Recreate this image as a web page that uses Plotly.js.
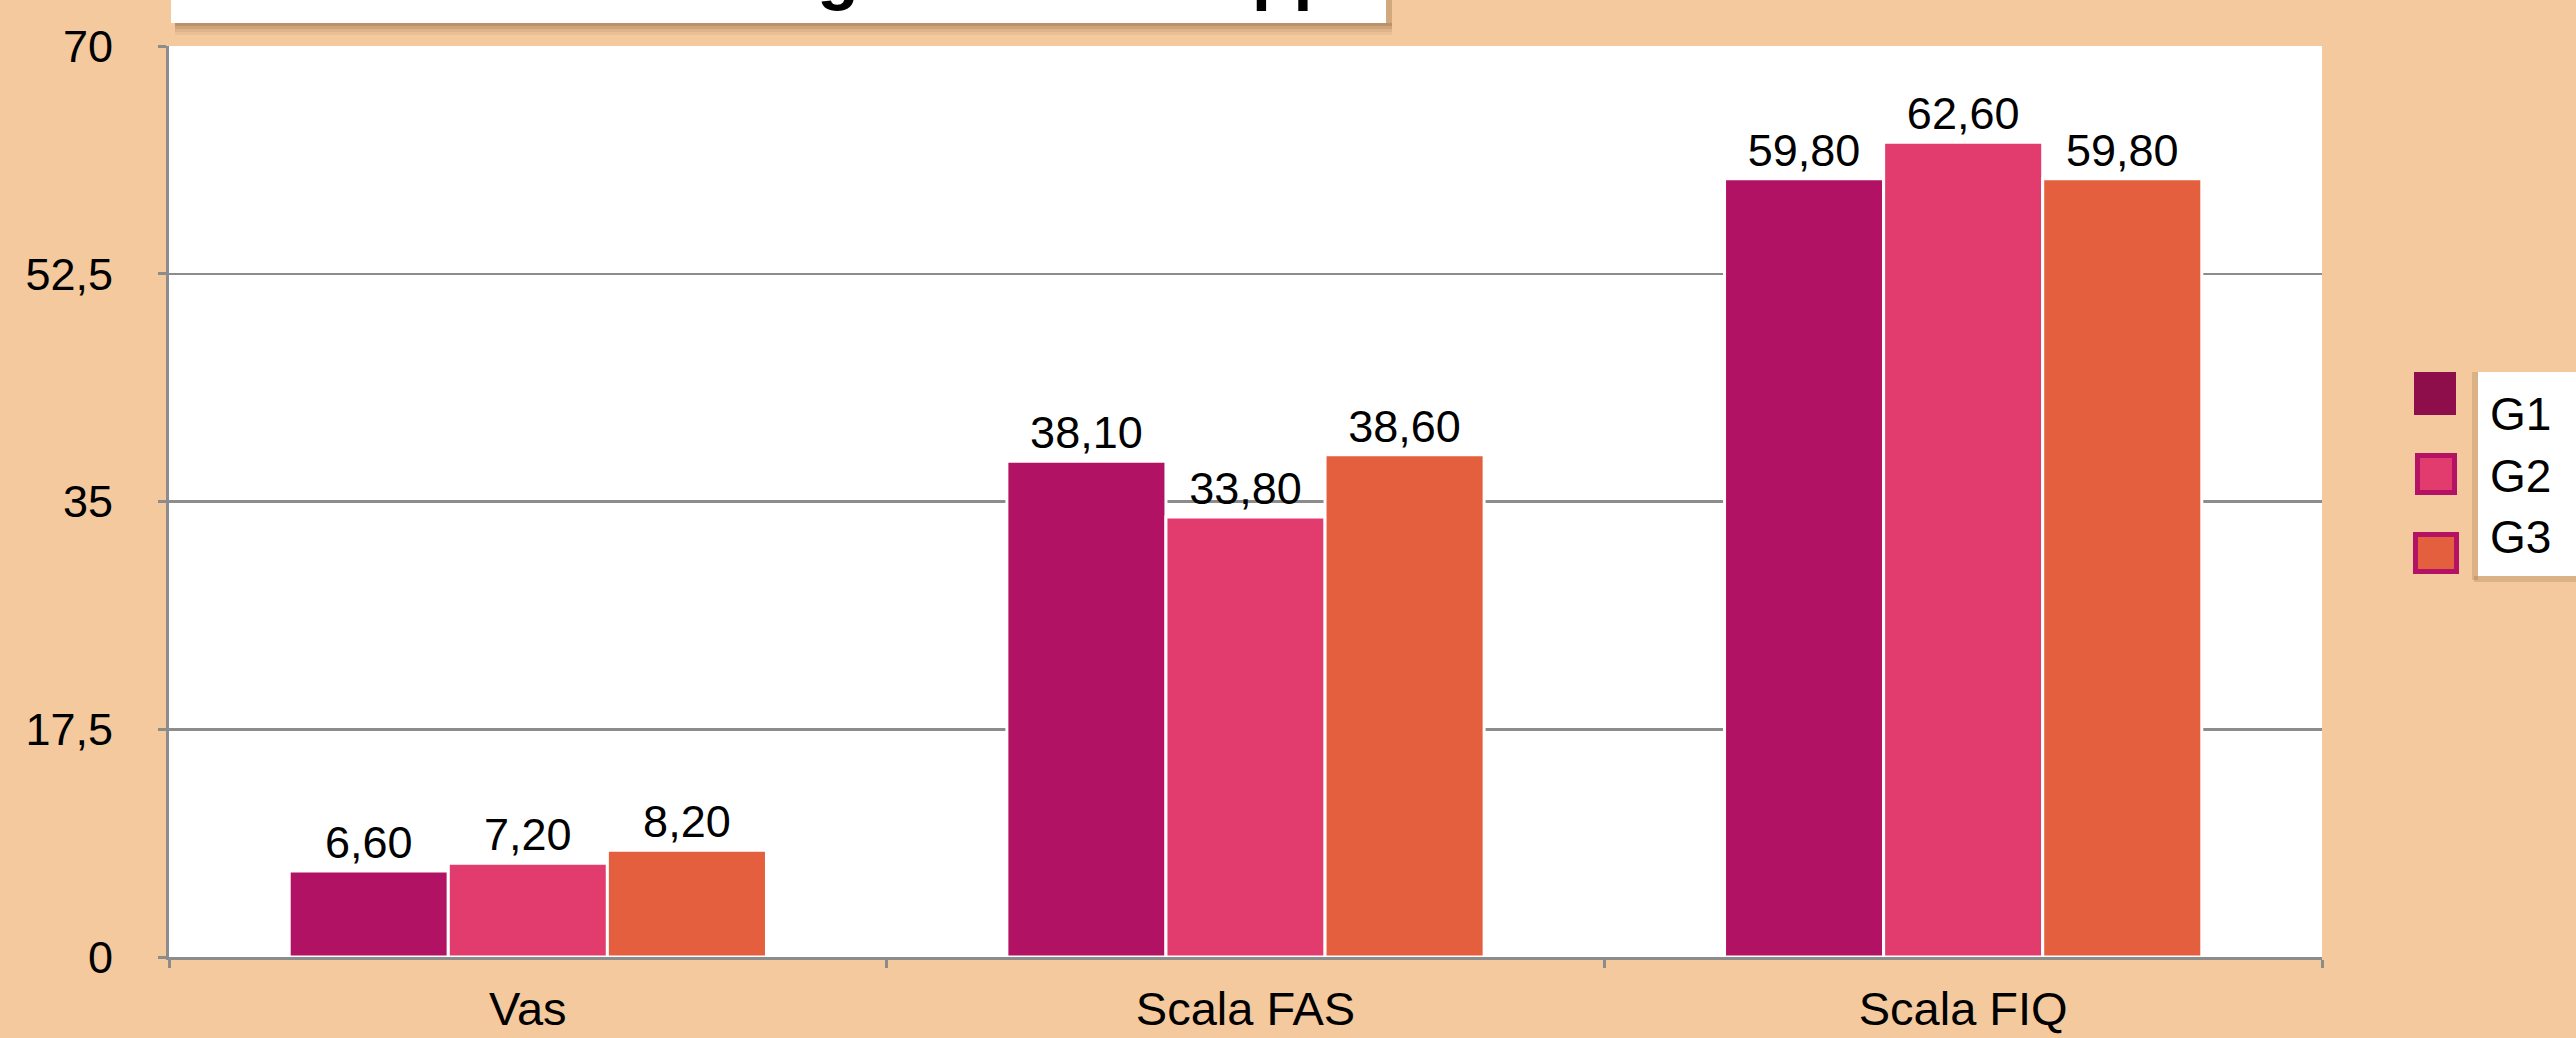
<!DOCTYPE html>
<html><head><meta charset="utf-8">
<script src="https://cdn.plot.ly/plotly-3.0.1.min.js"></script>
<style>html,body{margin:0;padding:0;background:#F3C99D;overflow:hidden}#chart{width:2576px;height:1038px}</style>
</head><body><div id="chart"></div>
<script>
// ---- data ----
const categories = ['Vas', 'Scala FAS', 'Scala FIQ'];
const seriesNames = ['G1', 'G2', 'G3'];
const g1Values = [6.6, 38.1, 59.8];
const g2Values = [7.2, 33.8, 62.6];
const g3Values = [8.2, 38.6, 59.8];
const yTickValues = [0, 17.5, 35, 52.5, 70];
const titleText = 'Valutazione degli esiti nel rapporto';

// ---- styles ----
const W = 2576, H = 1038;
const M = {l: 169, r: 254, t: 46, b: 81};
const PW = W - M.l - M.r, PH = H - M.t - M.b;
const px = x => (x - M.l) / PW;
const py = y => (H - M.b - y) / PH;
const FONT = 'Liberation Sans, Arial, sans-serif';
const barColors = ['#B11263', '#E23C6E', '#E35F3D'];
const legendFill = ['#8E0D4B', '#E23C6E', '#E35F3D'];
const legendBorder = [null, '#B31265', '#B31265'];
const gridC = '#8c8c8c';

const seriesValues = [g1Values, g2Values, g3Values];
const traces = seriesValues.map((vals, i) => ({
  type: 'bar', name: seriesNames[i], x: categories, y: vals,
  marker: {color: barColors[i], line: {color: '#ffffff', width: 3}},
  texttemplate: '%{y:.2f}', textposition: 'outside', cliponaxis: false,
  constraintext: 'none',
  textfont: {family: FONT, size: 45, color: '#000'},
  hoverinfo: 'x+y'
}));

const shapes = [];
const annotations = [];
// title box with shadow
const shadowSteps = [[23, 26, 0.42], [26, 29, 0.28], [29, 32, 0.16], [32, 35, 0.07]];
shadowSteps.forEach(s => shapes.push({type: 'rect', xref: 'paper', yref: 'paper',
  x0: px(175), x1: px(1392), y0: py(s[1]), y1: py(s[0]),
  fillcolor: `rgba(110,70,35,${s[2]})`, line: {width: 0}, layer: 'above'}));
shapes.push({type: 'rect', xref: 'paper', yref: 'paper', x0: px(1386), x1: px(1392),
  y0: py(23), y1: py(-5), fillcolor: 'rgba(110,70,35,0.25)', line: {width: 0}, layer: 'above'});
shapes.push({type: 'rect', xref: 'paper', yref: 'paper', x0: px(171), x1: px(1386),
  y0: py(23), y1: py(-10), fillcolor: '#ffffff', line: {width: 0}, layer: 'above'});
annotations.push({xref: 'paper', yref: 'paper', x: px(343), y: py(13), xanchor: 'left', yanchor: 'bottom',
  text: '<b>' + titleText + '</b>', showarrow: false, font: {family: FONT, size: 68, color: '#000'}});

// legend
shapes.push({type: 'rect', xref: 'paper', yref: 'paper', x0: px(2472), x1: px(2478),
  y0: py(580), y1: py(372), fillcolor: 'rgba(110,70,35,0.18)', line: {width: 0}});
shapes.push({type: 'rect', xref: 'paper', yref: 'paper', x0: px(2474), x1: px(2580),
  y0: py(582), y1: py(576), fillcolor: 'rgba(110,70,35,0.18)', line: {width: 0}});
shapes.push({type: 'rect', xref: 'paper', yref: 'paper', x0: px(2478), x1: px(2580),
  y0: py(576), y1: py(372), fillcolor: '#ffffff', line: {width: 0}});
const swatches = [[2414, 2456, 372, 415], [2415, 2457, 453, 495], [2413, 2459, 532, 574]];
const labelY = [414, 476, 537];
seriesNames.forEach((n, i) => {
  const s = swatches[i];
  const b = legendBorder[i];
  const inset = b ? 2.5 : 0;
  shapes.push({type: 'rect', xref: 'paper', yref: 'paper',
    x0: px(s[0] + inset), x1: px(s[1] - inset), y0: py(s[3] - inset), y1: py(s[2] + inset),
    fillcolor: legendFill[i], line: b ? {color: b, width: 5} : {width: 0}});
  annotations.push({xref: 'paper', yref: 'paper', x: px(2488), y: py(labelY[i]),
    xanchor: 'left', yanchor: 'middle', text: n, showarrow: false,
    font: {family: FONT, size: 46, color: '#000'}});
});

const layout = {
  width: W, height: H, margin: M,
  paper_bgcolor: '#F3C99D', plot_bgcolor: '#ffffff',
  separators: ',.',
  barmode: 'group', bargap: 0.335, bargroupgap: 0,
  showlegend: false,
  font: {family: FONT, color: '#000'},
  xaxis: {type: 'category', showline: true, linecolor: gridC, linewidth: 3,
    ticks: 'outside', tickson: 'boundaries', ticklen: 8, tickwidth: 3, tickcolor: gridC,
    showgrid: false, tickfont: {family: FONT, size: 47, color: '#000'}, ticklabelstandoff: 9,
    fixedrange: true},
  yaxis: {range: [0, 70], tickvals: yTickValues, showgrid: true, gridcolor: gridC, gridwidth: 2.5,
    showline: true, linecolor: gridC, linewidth: 3, ticks: 'outside', ticklen: 8, tickwidth: 3,
    tickcolor: gridC, zeroline: false, tickfont: {family: FONT, size: 45, color: '#000'},
    ticklabelstandoff: 36, fixedrange: true},
  shapes: shapes, annotations: annotations
};
Plotly.newPlot('chart', traces, layout, {displayModeBar: false, staticPlot: true});
</script></body></html>
